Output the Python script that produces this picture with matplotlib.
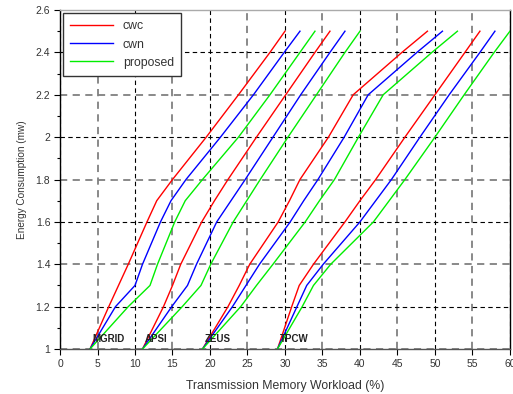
import matplotlib
matplotlib.use('Agg')
import matplotlib.pyplot as plt

plt.rcParams['font.family'] = ['Liberation Sans', 'DejaVu Sans']

# energy levels shared by every curve
y_levels = [1.0, 1.2, 1.3, 1.4, 1.6, 1.7, 1.8, 2.0, 2.2, 2.4, 2.5]

mgrid_cwc = [4.0, 6.5, 7.8, 9.1, 11.6, 12.9, 15.0, 19.5, 23.8, 28.0, 30.0]
mgrid_cwn = [4.0, 7.4, 10.0, 11.0, 13.4, 14.8, 16.8, 21.4, 25.8, 29.9, 32.0]
mgrid_prop = [4.0, 9.1, 12.0, 13.0, 15.3, 16.7, 19.0, 23.8, 28.0, 32.0, 34.0]

apsi_cwc = [11.0, 13.8, 15.0, 16.1, 18.9, 20.6, 22.4, 26.2, 30.1, 34.0, 36.0]
apsi_cwn = [11.0, 14.9, 17.0, 18.2, 20.9, 22.8, 24.7, 28.4, 32.1, 36.0, 38.0]
apsi_prop = [11.0, 16.3, 18.8, 20.1, 23.1, 24.9, 26.7, 30.4, 34.2, 38.0, 40.0]

zeus_cwc = [19.0, 22.4, 23.9, 25.3, 29.1, 30.6, 32.0, 35.8, 39.1, 45.6, 49.0]
zeus_cwn = [19.0, 23.0, 24.8, 26.6, 30.7, 32.5, 34.4, 37.9, 41.1, 47.6, 51.0]
zeus_prop = [19.0, 24.1, 26.2, 28.4, 32.7, 34.6, 36.6, 39.8, 43.1, 49.6, 53.0]

tpcw_cwc = [29.0, 30.9, 31.9, 33.8, 38.0, 40.0, 42.1, 46.0, 50.0, 54.0, 56.0]
tpcw_cwn = [29.0, 31.6, 32.9, 35.1, 40.0, 42.1, 44.2, 48.0, 51.9, 56.0, 58.0]
tpcw_prop = [29.0, 32.3, 33.8, 36.1, 41.8, 43.9, 46.0, 50.0, 53.9, 57.9, 60.0]

groups = ['MGRID', 'APSI', 'ZEUS', 'TPCW']
group_start = [4.0, 11.0, 19.0, 29.0]
cwc = [mgrid_cwc, apsi_cwc, zeus_cwc, tpcw_cwc]
cwn = [mgrid_cwn, apsi_cwn, zeus_cwn, tpcw_cwn]
prop = [mgrid_prop, apsi_prop, zeus_prop, tpcw_prop]

fig = plt.figure(figsize=(5.13, 3.94), dpi=100)
ax = fig.add_axes([0.117, 0.1142, 0.877, 0.8604])

for i in range(len(groups)):
    ax.plot(cwc[i], y_levels, color='#ff0000', lw=1.0, label='cwc' if i == 0 else None, zorder=3)
    ax.plot(cwn[i], y_levels, color='#0000ff', lw=1.0, label='cwn' if i == 0 else None, zorder=3)
    ax.plot(prop[i], y_levels, color='#00ee00', lw=1.0, label='proposed' if i == 0 else None, zorder=3)
    ax.text(group_start[i] + 0.3, 1.045, groups[i], fontsize=7, fontweight='bold',
            color='#222222', va='center', ha='left', zorder=4)

ax.set_xlim(0, 60)
ax.set_ylim(1, 2.6)
ax.set_xticks(range(0, 61, 5))
ax.set_yticks([1, 1.2, 1.4, 1.6, 1.8, 2, 2.2, 2.4, 2.6])
ax.set_yticklabels(['1', '1.2', '1.4', '1.6', '1.8', '2', '2.2', '2.4', '2.6'])
ax.set_yticks([1.1, 1.3, 1.5, 1.7, 1.9, 2.1, 2.3, 2.5], minor=True)
ax.tick_params(axis='both', which='major', direction='out', length=4, width=0.8,
               labelsize=7.5, labelcolor='#333333', pad=3)
ax.tick_params(axis='y', which='minor', direction='out', length=2.5, width=0.8)

ax.grid(True, which='major', linestyle=(0, (4, 3)), lw=0.8, zorder=1)
for val, gl in zip(ax.get_xticks(), ax.get_xgridlines()):
    if val % 10 == 0:
        gl.set_color('black')
        gl.set_linewidth(0.8)
    else:
        gl.set_color('#808080')
        gl.set_linewidth(1.3)
for val, gl in zip(ax.get_yticks(), ax.get_ygridlines()):
    if round(val * 10) % 4 == 2:
        gl.set_color('#808080')
        gl.set_linewidth(1.3)
    else:
        gl.set_color('black')
        gl.set_linewidth(0.8)

ax.spines['left'].set_color('black')
ax.spines['right'].set_color('black')
ax.spines['bottom'].set_color('#555555')
ax.spines['top'].set_color('#aaaaaa')
for s in ax.spines.values():
    s.set_linewidth(1.0)

ax.set_xlabel('Transmission Memory Workload (%)', fontsize=8.8, color='#333333', labelpad=8)
ax.set_ylabel('Energy Consumption (mw)', fontsize=7.2, color='#333333', labelpad=6)

leg = ax.legend(loc='upper left', bbox_to_anchor=(0.0, 1.0), borderaxespad=0.25, fontsize=8.8,
                handlelength=3.5, handletextpad=0.8, borderpad=0.6, labelspacing=0.5,
                fancybox=False, framealpha=1.0, edgecolor='#333333')
leg.get_frame().set_linewidth(1.0)
for t in leg.get_texts():
    t.set_color('#333333')

fig.savefig('out.png', dpi=100)
